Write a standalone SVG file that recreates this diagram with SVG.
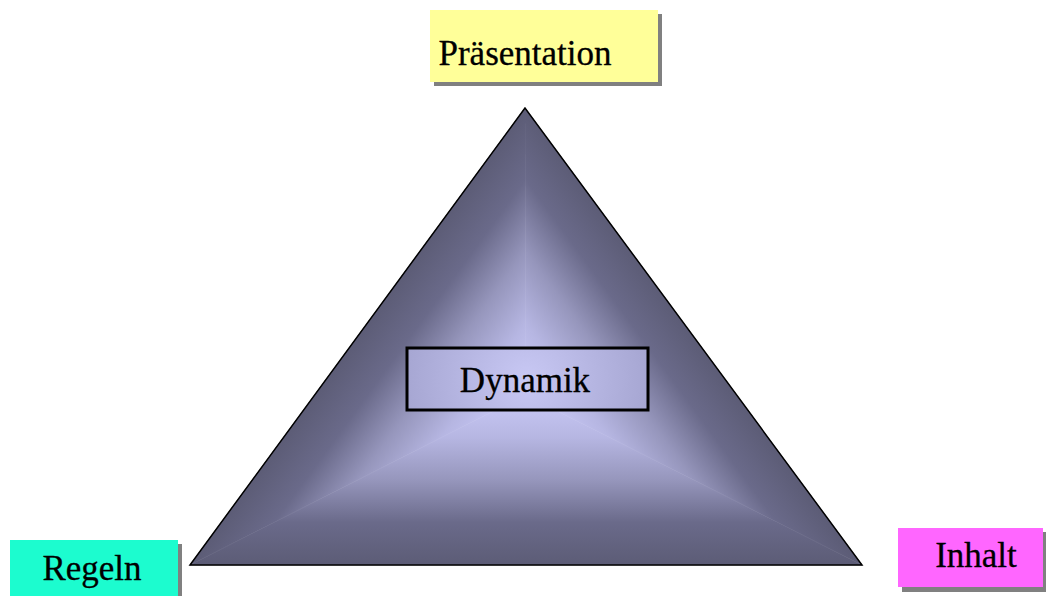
<svg xmlns="http://www.w3.org/2000/svg" width="1046" height="596" viewBox="0 0 1046 596">
<defs>
<linearGradient id="gBase" gradientUnits="userSpaceOnUse" x1="525" y1="565" x2="525" y2="395">
<stop offset="0" stop-color="#5c5c76"/>
<stop offset="0.25" stop-color="#6a6a8a"/>
<stop offset="0.5" stop-color="#9696bc"/>
<stop offset="0.75" stop-color="#b6b6e2"/>
<stop offset="1" stop-color="#cacaf8"/>
</linearGradient>
<linearGradient id="gLeft" gradientUnits="userSpaceOnUse" x1="388.5" y1="294.4" x2="525.6" y2="394.9">
<stop offset="0" stop-color="#5c5c76"/>
<stop offset="0.25" stop-color="#6a6a8a"/>
<stop offset="0.5" stop-color="#9696bc"/>
<stop offset="0.75" stop-color="#b6b6e2"/>
<stop offset="1" stop-color="#cacaf8"/>
</linearGradient>
<linearGradient id="gRight" gradientUnits="userSpaceOnUse" x1="662.6" y1="294.4" x2="525.6" y2="394.9">
<stop offset="0" stop-color="#5c5c76"/>
<stop offset="0.25" stop-color="#6a6a8a"/>
<stop offset="0.5" stop-color="#9696bc"/>
<stop offset="0.75" stop-color="#b6b6e2"/>
<stop offset="1" stop-color="#cacaf8"/>
</linearGradient>
<radialGradient id="dyn" gradientUnits="userSpaceOnUse" cx="527" cy="379" r="130">
<stop offset="0" stop-color="#c8c8f4"/>
<stop offset="1" stop-color="#a4a4d0"/>
</radialGradient>
<style>
.lbl{font-family:'Liberation Serif','Times New Roman',serif;font-size:35px;fill:#000;stroke:#000;stroke-width:0.3px}
.shadow{fill:#808080}
</style>
</defs>
<rect width="1046" height="596" fill="#ffffff"/>
<g id="triangle">
<polygon points="525,108 190,565 525.6,394.9" fill="url(#gLeft)" stroke="url(#gLeft)" stroke-width="0.6"/>
<polygon points="525,108 862,565 525.6,394.9" fill="url(#gRight)" stroke="url(#gRight)" stroke-width="0.6"/>
<polygon points="190,565 862,565 525.6,394.9" fill="url(#gBase)" stroke="url(#gBase)" stroke-width="0.6"/>
<polygon points="525,108 190,565 862,565" fill="none" stroke="#000" stroke-width="1.5"/>
</g>
<g id="dynamik">
<rect x="407" y="348" width="241" height="62" fill="url(#dyn)" stroke="#000" stroke-width="3"/>
<text class="lbl" x="525" y="392" text-anchor="middle">Dynamik</text>
</g>
<g id="praesentation">
<rect class="shadow" x="434" y="14" width="228" height="72"/>
<rect x="430" y="10" width="228" height="72" fill="#ffff99"/>
<text class="lbl" x="525" y="65" text-anchor="middle">Präsentation</text>
</g>
<g id="regeln">
<rect class="shadow" x="14" y="544" width="168" height="60"/>
<rect x="10" y="540" width="168" height="60" fill="#1cfccf"/>
<text class="lbl" x="92" y="580" text-anchor="middle">Regeln</text>
</g>
<g id="inhalt">
<rect class="shadow" x="902" y="532" width="145" height="60"/>
<rect x="898" y="528" width="145" height="59" fill="#ff66ff"/>
<text class="lbl" x="976" y="567" text-anchor="middle">Inhalt</text>
</g>
<g id="connectors"/>
</svg>
